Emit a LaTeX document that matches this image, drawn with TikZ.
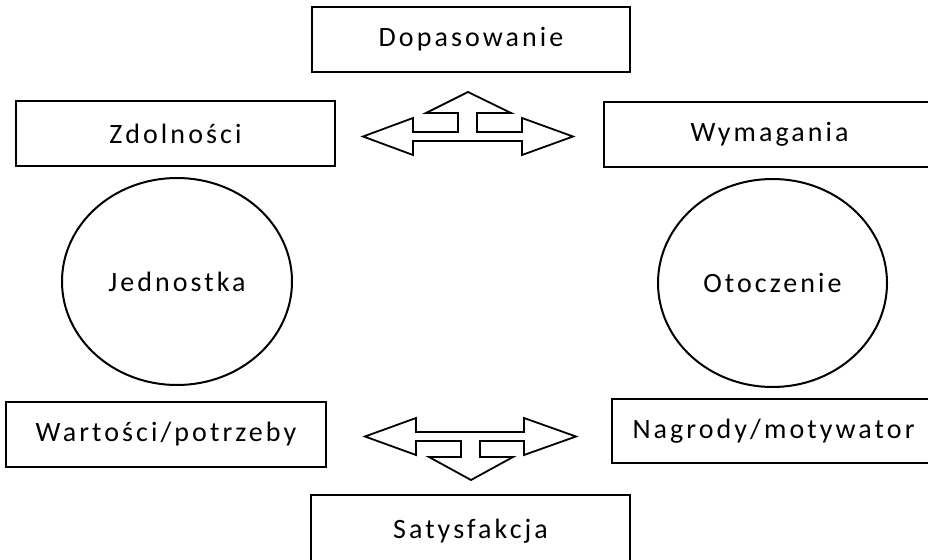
\documentclass[tikz,border=0pt]{standalone}
\usepackage{fontspec}
\setmainfont{Carlito}[LetterSpace=11]
\usepackage{tikz}
\usetikzlibrary{shapes.geometric}
\tikzset{
	boxnode/.style={
			rectangle,
			draw=black,
			line width=2pt,
			fill=white,
			inner sep=0pt
		},
	ellipsenode/.style={
			ellipse,
			draw=black,
			line width=2pt,
			fill=white,
			inner sep=0pt
		},
	blockarrow/.style={
			draw=black,
			line width=1.8pt,
			fill=white,
			line join=miter
		}
}

\begin{document}
\begin{tikzpicture}[x=1pt, y=-1pt, font=\fontsize{28}{32}\selectfont]
				\useasboundingbox (0,0) rectangle (928,559);
				\node[boxnode, minimum width=318pt, minimum height=65pt] at (471, 39.5) (dop) {Dopasowanie};
				\node[boxnode, minimum width=319pt, minimum height=65pt] at (175.5, 133.5) (zdol) {Zdolności};
				\node[boxnode, minimum width=331pt, minimum height=65pt] at (769.5, 134.5) (wym) {Wymagania};
				\node[ellipsenode, minimum width=230pt, minimum height=207pt] at (177, 281.5) (jed) {Jednostka};
				\node[ellipsenode, minimum width=229pt, minimum height=208pt] at (772.5, 283) (oto) {Otoczenie};
				\node[boxnode, minimum width=320pt, minimum height=65pt] at (166, 434.5) (wart) {Wartości/potrzeby};
				\node[boxnode, minimum width=323pt, minimum height=64pt] at (773.5, 431) (nag) {Nagrody/motywator};
				\node[boxnode, minimum width=319pt, minimum height=72pt] at (470.5, 531) (sat) {Satysfakcja};
				% upper arrow
				\draw[blockarrow] (363,136.5) -- (413,118) -- (413,132) -- (458,132) -- (458,113) -- (426,113)
					-- (468,92) -- (511,113) -- (477,113) -- (477,132) -- (522,132) -- (522,118)
					-- (573,136.5) -- (522,155) -- (522,141) -- (413,141) -- (413,155) -- cycle;
				% lower arrow
				\draw[blockarrow] (365,436.5) -- (416,418) -- (416,432) -- (524,432) -- (524,418) -- (576,436.5)
					-- (524,455) -- (524,441) -- (480,441) -- (480,457) -- (513,457) -- (471,480)
					-- (429,457) -- (461,457) -- (461,441) -- (416,441) -- (416,455) -- cycle;
			\end{tikzpicture}
\end{document}
